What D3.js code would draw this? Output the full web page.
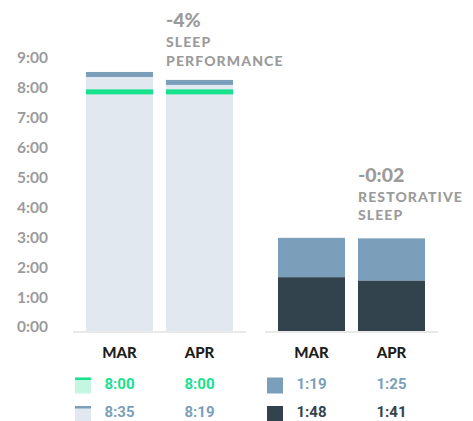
<!DOCTYPE html>
<html>
<head>
    <title></title>
    <style>
        body { margin: 0; background: #fff; }
        text { font-family: Lato, "Open Sans", sans-serif; }
    </style>
</head>
<body>
<div id="container"></div>

<script src="https://d3js.org/d3.v7.min.js" type="text/javascript"></script>
<script type="text/javascript">
    // values in hours
    const months = ['MAR', 'APR'];
    const sleepNeed = [8 + 0 / 60, 8 + 0 / 60];
    const hoursSlept = [8 + 35 / 60, 8 + 19 / 60];
    const remSleep = [1 + 19 / 60, 1 + 25 / 60];
    const deepSleep = [1 + 48 / 60, 1 + 41 / 60];
    const yTicks = [0, 1, 2, 3, 4, 5, 6, 7, 8, 9];
    const perfChange = '-4%';
    const restChange = '-0:02';

    let w = 473;
    let h = 421;

    const colors = {
        bar: '#e1e8ef',
        band: '#7b9fba',
        green: '#15e38e',
        greenLight: '#c4f6e1',
        dark: '#33434e',
        gray: '#9b9b9b',
        base: '#e9e9e9'
    };

    const fmt = v => {
        let m = Math.round(v * 60);
        return Math.floor(m / 60) + ':' + String(m % 60).padStart(2, '0');
    };

    const svg = d3.select('#container')
        .append('svg')
        .attr('width', w)
        .attr('height', h);

    let y = d3.scaleLinear().domain([0, 9]).range([331, 62]);
    let xL = d3.scaleBand().domain(months).range([73, 246]).padding(0.1625);
    let xR = d3.scaleBand().domain(months).range([265, 438]).padding(0.1625);

    // y axis
    let axis = d3.axisLeft(y).tickValues(yTicks).tickFormat(fmt).tickSize(0).tickPadding(0);
    let ag = svg.append('g')
        .attr('transform', 'translate(48, -4)')
        .call(axis);
    ag.select('.domain').remove();
    ag.selectAll('text')
        .style('font-family', 'Lato, sans-serif')
        .style('font-size', '15.5px')
        .style('font-weight', 700)
        .attr('fill', colors.gray);

    // baselines
    [xL, xR].forEach(x => {
        svg.append('rect')
            .attr('x', x.range()[0])
            .attr('y', y(0))
            .attr('width', x.range()[1] - x.range()[0])
            .attr('height', 2)
            .attr('fill', colors.base);
    });

    // sleep performance bars
    const lineW = 5;
    months.forEach((d, i) => {
        svg.append('rect')
            .attr('x', xL(d))
            .attr('y', y(hoursSlept[i]) - lineW / 2)
            .attr('width', xL.bandwidth())
            .attr('height', y(0) - y(hoursSlept[i]) + lineW / 2)
            .attr('fill', colors.bar);
        svg.append('rect')
            .attr('x', xL(d))
            .attr('y', y(hoursSlept[i]) - lineW / 2)
            .attr('width', xL.bandwidth())
            .attr('height', lineW)
            .attr('fill', colors.band);
        svg.append('rect')
            .attr('x', xL(d))
            .attr('y', y(sleepNeed[i]) - lineW / 2)
            .attr('width', xL.bandwidth())
            .attr('height', lineW)
            .attr('fill', colors.green);
    });

    // restorative sleep bars
    months.forEach((d, i) => {
        svg.append('rect')
            .attr('x', xR(d))
            .attr('y', y(deepSleep[i] + remSleep[i]))
            .attr('width', xR.bandwidth())
            .attr('height', y(deepSleep[i]) - y(deepSleep[i] + remSleep[i]))
            .attr('fill', colors.band);
        svg.append('rect')
            .attr('x', xR(d))
            .attr('y', y(deepSleep[i]))
            .attr('width', xR.bandwidth())
            .attr('height', y(0) - y(deepSleep[i]))
            .attr('fill', colors.dark);
    });

    // headers
    function header(x, yy, big, lines) {
        let g = svg.append('g').attr('fill', colors.gray).style('font-weight', 900);
        g.append('text').attr('x', x).attr('y', yy)
            .style('font-size', '19.5px').text(big);
        lines.forEach((t, i) => {
            g.append('text').attr('x', x).attr('y', yy + 20 + i * 18.5)
                .style('font-size', '14px').style('letter-spacing', '1.1px').text(t);
        });
    }
    header(xL('APR'), 27, perfChange, ['SLEEP', 'PERFORMANCE']);
    header(xR('APR'), 181.5, restChange, ['RESTORATIVE', 'SLEEP']);

    // month labels
    [xL, xR].forEach(x => {
        svg.selectAll(null).data(months).enter().append('text')
            .attr('x', d => x(d) + x.bandwidth() / 2)
            .attr('y', 358)
            .attr('text-anchor', 'middle')
            .style('font-size', '15px')
            .style('font-weight', 900)
            .attr('fill', '#1e1e1e')
            .text(d => d);
    });

    // legend rows
    const rows = [
        { x: xL, vals: sleepNeed, y: 388.5, color: colors.green, sq: colors.greenLight, top: colors.green },
        { x: xL, vals: hoursSlept, y: 417, color: colors.band, sq: colors.bar, top: colors.band },
        { x: xR, vals: remSleep, y: 388.5, color: colors.band, sq: colors.band, top: null },
        { x: xR, vals: deepSleep, y: 417, color: colors.dark, sq: colors.dark, top: null }
    ];
    rows.forEach(r => {
        let sx = r.x.range()[0] + 2;
        svg.append('rect')
            .attr('x', sx).attr('y', r.y - 11)
            .attr('width', 16).attr('height', 16)
            .attr('fill', r.sq);
        if (r.top) {
            svg.append('rect')
                .attr('x', sx).attr('y', r.y - 11)
                .attr('width', 16).attr('height', 2.5)
                .attr('fill', r.top);
        }
        svg.selectAll(null).data(months).enter().append('text')
            .attr('x', d => r.x(d) + r.x.bandwidth() / 2)
            .attr('y', r.y)
            .attr('text-anchor', 'middle')
            .style('font-family', 'Roboto, sans-serif')
            .style('font-size', '15px')
            .style('font-weight', 700)
            .attr('fill', r.color)
            .text((d, i) => fmt(r.vals[i]));
    });
</script>
</body>
</html>
